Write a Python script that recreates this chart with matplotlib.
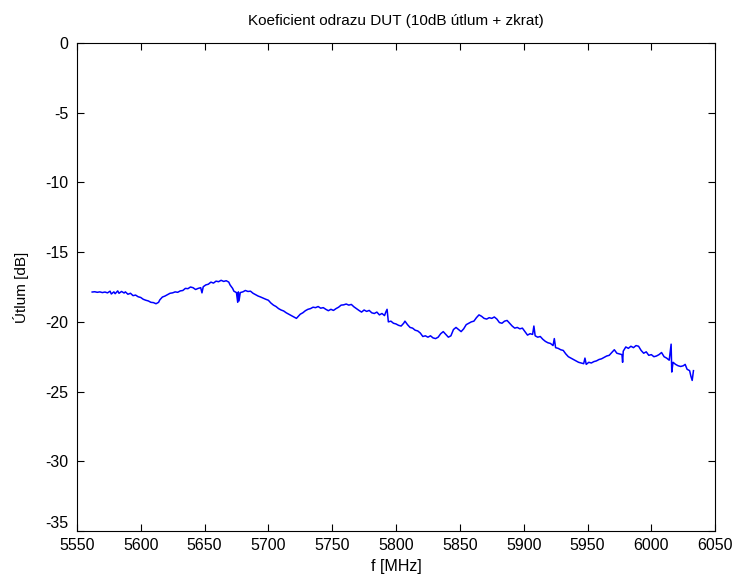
import matplotlib
matplotlib.use("Agg")
import matplotlib.pyplot as plt

plt.rcParams["font.family"] = ["Liberation Sans", "DejaVu Sans"]
plt.rcParams["axes.unicode_minus"] = False

# frekvence [MHz] a utlum [dB]
freq = [
    5562, 5564, 5566, 5568, 5570, 5572, 5574, 5576, 5577, 5579, 5580, 5582, 5583, 5585, 5587, 5588,
    5590, 5592, 5594, 5596, 5598, 5600, 5602, 5604, 5606, 5608, 5610, 5612, 5614, 5615, 5617, 5619,
    5621, 5623, 5625, 5627, 5629, 5631, 5633, 5635, 5637, 5639, 5641, 5643, 5645, 5647, 5648, 5649,
    5651, 5653, 5655, 5657, 5659, 5661, 5663, 5665, 5667, 5669, 5670, 5672, 5673, 5675, 5676, 5676.5,
    5677, 5678, 5680, 5682, 5684, 5686, 5688, 5690, 5692, 5694, 5696, 5698, 5700, 5702, 5704, 5706,
    5708, 5710, 5712, 5714, 5716, 5718, 5720, 5722, 5723.5, 5725, 5727, 5729, 5731, 5733, 5735, 5737,
    5739, 5741, 5743, 5745, 5747, 5749, 5751, 5753, 5755, 5757, 5759, 5761, 5763, 5765, 5767, 5769,
    5771, 5773, 5775, 5777, 5779, 5781, 5783, 5785, 5787, 5789, 5791, 5792, 5793, 5794, 5796, 5798,
    5800, 5802, 5804, 5806, 5807, 5809, 5811, 5813, 5815, 5817, 5819, 5821, 5823, 5825, 5827, 5829,
    5831, 5833, 5835, 5837, 5839, 5841, 5843, 5845, 5847, 5849, 5851, 5853, 5855, 5857, 5859, 5861,
    5863, 5865, 5867, 5869, 5871, 5873, 5875, 5877, 5879, 5881, 5883, 5885, 5887, 5889, 5891, 5893,
    5895, 5897, 5899, 5901, 5903, 5905, 5907, 5908, 5909, 5911, 5913, 5915, 5917, 5919, 5921, 5923,
    5924, 5925, 5927, 5929, 5931, 5933, 5935, 5937, 5939, 5941, 5943, 5945, 5947, 5948, 5949, 5951,
    5953, 5955, 5957, 5959, 5961, 5963, 5965, 5967, 5969, 5971, 5973, 5975, 5977, 5977.5, 5978, 5980,
    5982, 5984, 5986, 5988, 5990, 5992, 5994, 5996, 5998, 6000, 6002, 6004, 6006, 6008, 6010, 6012,
    6014, 6015.5, 6016, 6017, 6019, 6021, 6023, 6025, 6026.5, 6028, 6030, 6031, 6032, 6033,
]
utlum = [
    -17.86, -17.84, -17.88, -17.85, -17.90, -17.86, -17.92, -17.80, -18.00, -17.85, -17.98, -17.78, -17.95, -17.82, -17.93, -17.85,
    -18.02, -17.95, -18.12, -18.08, -18.20, -18.25, -18.38, -18.45, -18.50, -18.60, -18.62, -18.70, -18.60, -18.42, -18.22, -18.15,
    -18.05, -17.95, -17.92, -17.85, -17.88, -17.78, -17.75, -17.60, -17.62, -17.50, -17.55, -17.68, -17.60, -17.55, -17.92, -17.48,
    -17.35, -17.30, -17.15, -17.22, -17.08, -17.12, -17.02, -17.10, -17.05, -17.15, -17.35, -17.60, -17.80, -17.90, -18.60, -17.85,
    -18.50, -17.90, -17.85, -17.75, -17.82, -17.80, -17.95, -18.05, -18.15, -18.22, -18.30, -18.38, -18.45, -18.65, -18.80, -18.90,
    -19.05, -19.15, -19.22, -19.35, -19.45, -19.55, -19.65, -19.75, -19.60, -19.45, -19.35, -19.20, -19.10, -19.05, -18.95, -18.98,
    -18.90, -19.02, -18.98, -19.10, -19.20, -19.10, -19.18, -19.05, -18.95, -18.80, -18.78, -18.72, -18.80, -18.75, -18.92, -19.05,
    -19.18, -19.30, -19.15, -19.25, -19.18, -19.35, -19.40, -19.30, -19.50, -19.40, -19.55, -19.30, -19.10, -20.00, -19.95, -20.10,
    -20.15, -20.25, -20.30, -20.10, -19.95, -20.20, -20.40, -20.45, -20.60, -20.65, -20.80, -21.05, -21.00, -21.10, -21.00, -21.15,
    -21.20, -21.10, -20.85, -20.70, -20.90, -21.10, -21.00, -20.55, -20.40, -20.55, -20.70, -20.50, -20.20, -20.10, -20.00, -19.95,
    -19.70, -19.50, -19.60, -19.75, -19.80, -19.70, -19.75, -19.65, -19.80, -20.05, -20.10, -19.95, -19.90, -20.10, -20.30, -20.45,
    -20.40, -20.50, -20.45, -20.70, -20.95, -20.85, -20.90, -20.30, -21.00, -21.10, -21.05, -21.25, -21.40, -21.50, -21.55, -21.70,
    -21.20, -21.85, -21.90, -22.00, -22.05, -22.30, -22.50, -22.60, -22.70, -22.80, -22.90, -22.95, -23.00, -22.60, -23.05, -22.90,
    -22.95, -22.85, -22.80, -22.70, -22.65, -22.55, -22.45, -22.40, -22.20, -22.00, -22.25, -22.30, -22.35, -22.90, -22.10, -21.80,
    -21.90, -21.75, -21.85, -21.70, -21.75, -22.05, -22.25, -22.15, -22.40, -22.35, -22.50, -22.45, -22.35, -22.20, -22.50, -22.60,
    -22.75, -21.60, -23.60, -22.90, -23.05, -23.15, -23.20, -23.15, -23.05, -23.40, -23.50, -23.90, -24.20, -23.50,
]

xticks = [5550, 5600, 5650, 5700, 5750, 5800, 5850, 5900, 5950, 6000, 6050]
yticks = [-35, -30, -25, -20, -15, -10, -5, 0]

fig = plt.figure(figsize=(7.32, 5.85), dpi=100)
ax = fig.add_axes([0.105, 0.0923, 0.872, 0.8342])

ax.plot(freq, utlum, color=(0, 0, 1), linewidth=1.1)

ax.set_xlim(5550, 6050)
ax.set_ylim(-35, 0)
ax.set_xticks(xticks)
ax.set_yticks(yticks)
ax.tick_params(direction="in", top=True, right=True, length=5, labelsize=11.5)
ax.tick_params(axis="x", pad=5)
ax.tick_params(axis="y", pad=6)
for s in ax.spines.values():
    s.set_linewidth(0.8)

# -35 posunout trochu nahoru, jako v originale
ax.get_yticklabels()[0].set_va("bottom")

ax.set_title("Koeficient odrazu DUT (10dB útlum + zkrat)", fontsize=11, pad=13)
ax.set_xlabel("f [MHz]", fontsize=11.5, labelpad=4)
ax.set_ylabel("Útlum [dB]", fontsize=11, labelpad=12)

fig.savefig("out.png", dpi=100)
plt.close(fig)
